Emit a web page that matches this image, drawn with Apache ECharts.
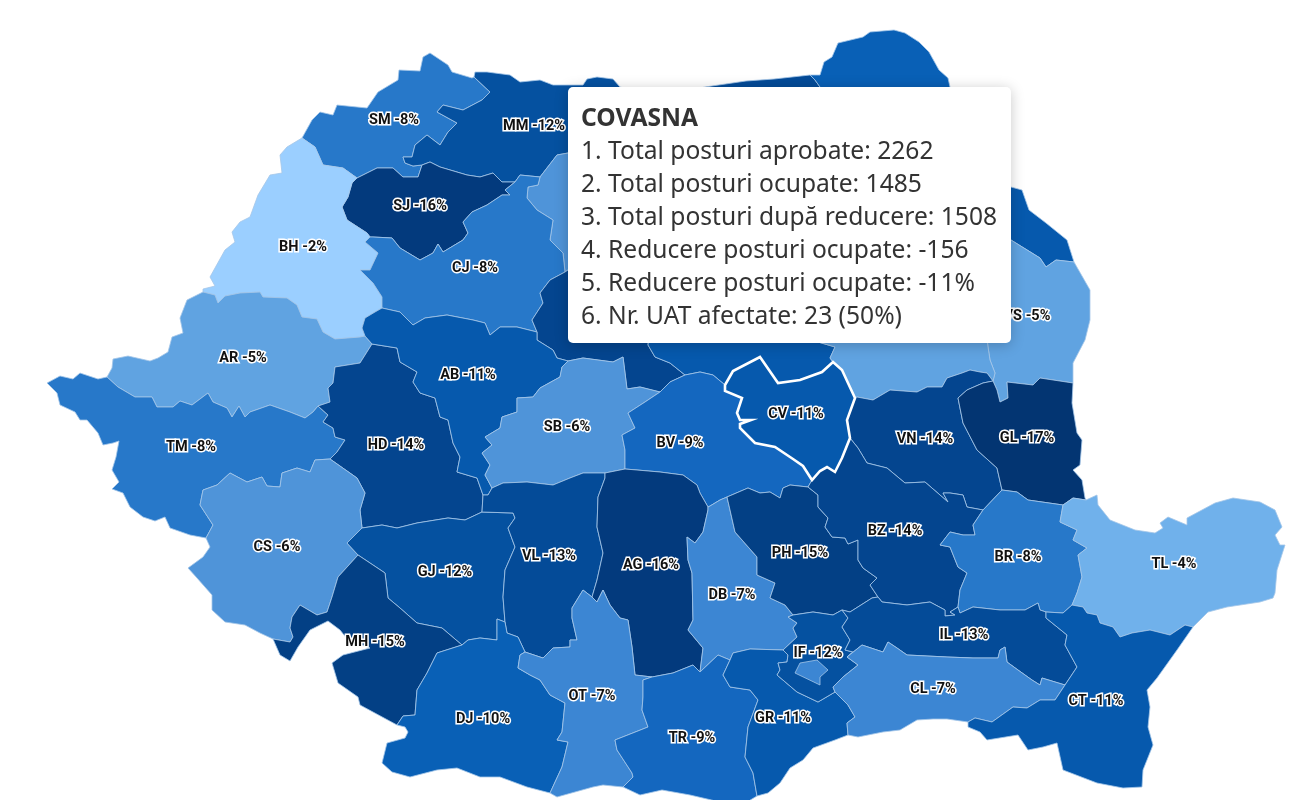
<!DOCTYPE html>
<html>
<head>
<meta charset="utf-8">
<title>Reducere posturi</title>
<script src="https://cdn.jsdelivr.net/npm/echarts@6/dist/echarts.min.js"></script>
<style>
html, body { margin: 0; padding: 0; background: #fff; }
#chart { width: 1307px; height: 800px; }
</style>
</head>
<body>
<div id="chart"></div>
<script>
// values (counties under the tooltip are estimates)
var countyCodes = ['SM','MM','SV','BT','IS','VS','NT','BN','SJ','BH','CJ','MS','HR','BC','AR','TM','HD','AB','SB','BV','VN','GL','CS','GJ','VL','AG','DB','PH','BZ','BR','TL','MH','DJ','OT','TR','GR','IF','B','IL','CL','CT','CV'];
var reducerePct = [-8,-12,-13,-10,-11,-5,-9,-6,-16,-2,-8,-14,-11,-5,-5,-8,-14,-11,-6,-9,-14,-17,-6,-12,-13,-16,-7,-15,-14,-8,-4,-15,-10,-7,-9,-11,-12,-7,-13,-7,-11,-11];

var tooltipCode = 'CV';
var tooltipTitle = 'COVASNA';
var tooltipLabels = ['1. Total posturi aprobate', '2. Total posturi ocupate', '3. Total posturi după reducere', '4. Reducere posturi ocupate', '5. Reducere posturi ocupate', '6. Nr. UAT afectate'];
var tooltipValues = ['2262', '1485', '1508', '-156', '-11%', '23 (50%)'];

var scaleColors = ['#033572','#033a7d','#034085','#04458f','#044b98','#0551a0','#0659ad','#0960b6','#1467bf','#2778c9','#3c86d3','#4f94d9','#60a3e1','#70b1eb','#85c0f5','#9bcfff'];

/* map outline: shared borders, in page pixels */
var arcs = {
	o_AR: [203,292,187,300,180,318,183,333,172,337,168,352,158,358,150,361,128,356,113,359,112,368,107,377],
	o_TM: [107,377,98,379,80,373,73,379,60,376,47,383,57,393,60,405,75,412,80,420,87,420,98,433,103,445,113,443,119,441,116,457,112,470,119,482,112,489,123,493,130,507,143,517,155,521,165,517,170,528,190,535,206,538],
	o_CS: [206,538,210,547,203,557,188,568,197,578,212,595,212,610,225,622,245,625,260,633,273,639],
	o_MH: [273,639,280,655,290,661,298,647,310,630,328,621,340,630,348,640,370,648,343,655,332,663,338,683,358,697,360,705,397,725],
	o_DJ: [397,725,405,727,408,732,405,738,387,743,382,763,392,772,410,777,437,770,457,768,480,777,500,777,527,787,550,793],
	o_OT: [550,793,557,797,593,787,603,785,623,787],
	o_TR: [623,787,640,795,662,790,690,795,720,802,747,802,757,796],
	o_GR: [757,796,768,793,780,783,790,768,803,760,813,748,835,740,848,735],
	o_CL: [848,735,858,737,883,732,900,730,917,720,933,719,947,719,968,722],
	o_CT: [968,722,968,727,980,732,987,740,1018,735,1028,750,1043,747,1057,743,1063,770,1097,783,1123,788,1142,787,1143,770,1153,745,1148,727,1150,707,1147,690,1157,678,1177,650,1193,627],
	o_TL: [1193,627,1208,612,1227,607,1260,602,1273,598,1275,593,1277,570,1285,545,1280,545,1275,535,1282,527,1275,510,1260,502,1233,498,1215,503,1187,518,1187,525,1168,517,1160,523,1163,528,1155,533,1135,530,1110,520,1098,505,1097,495,1086,500],
	o_GL: [1086,500,1085,498,1082,480,1073,470,1080,465,1082,440,1077,433,1072,403,1073,383],
	o_VS: [1073,383,1073,363,1085,340,1090,320,1090,290,1074,262],
	o_IS: [1074,262,1067,240,1046,223,1029,210,1022,190,1011,187,985,165],
	o_BT: [985,165,965,140,950,87,948,78,939,70,929,52,919,42,905,33,894,30,870,32,863,37,838,43,832,57,824,62,820,75,810,75],
	o_SV: [810,75,774,79,746,81,705,87,680,92],
	o_MM: [680,92,650,95,620,87,613,79,597,77,587,79,583,85,553,85,540,80,520,82,510,75,487,72,475,72,474,77],
	o_SM: [474,77,472,78,452,72,448,65,430,53,423,57,420,71,399,70,398,80,378,92,367,108,337,105,333,115,320,112,312,120,302,138],
	o_BH: [302,138,287,147,280,155,282,173,270,175,258,195,250,217,240,222,232,232,235,242,225,250,210,277,215,286,203,289,203,292],
	AR_TM: [107,377,118,387,135,397,152,397,157,407,173,407,180,401,192,405,208,393,213,402,227,408,232,417,239,406,245,417,250,412,270,405,290,412,305,418,313,412,318,406],
	AR_HD: [318,406,330,402,328,388,333,383,335,367,360,363,372,344],
	AR_AB: [372,344,365,336],
	AR_BH: [203,292,215,295,218,303,225,296,240,293,260,292,263,297,287,298,297,305,302,317,317,319,323,332,335,339,360,337,365,336],
	BH_AB: [365,336,362,328,365,318,375,312,382,308],
	BH_CJ: [382,308,382,297,373,283,360,270,370,270,378,253,365,242,370,237],
	BH_SJ: [370,237,367,233,347,220,342,207,348,197,352,183,357,178],
	BH_SM: [357,178,343,168,323,165,315,147,302,138],
	SM_SJ: [357,178,377,168,393,168,403,177,418,177,422,165],
	SM_MM: [422,165,413,166,405,163,403,157,412,157,415,145,427,135,440,145,448,132,457,123,437,112,443,105,463,110,482,100,490,92,474,77],
	SJ_MM: [422,165,430,162,440,167,467,175,480,177,493,173,502,182,515,182],
	SJ_CJ: [515,182,505,190,510,195,502,195,487,205,472,212,463,222,468,233,463,240,443,252,438,244,433,253,420,260,400,248,392,238,373,237,370,237],
	CJ_MM: [515,182,520,175,540,177],
	CJ_BN: [540,177,538,185,528,187,527,198,537,210,553,220,550,240,563,253,565,272],
	CJ_MS: [565,272,550,280,540,293,543,303,532,320,537,332],
	CJ_AB: [537,332,517,327,500,327,490,335,485,323,473,320,447,315,425,318,413,325,400,312,382,308],
	AB_MS: [537,332,537,340,553,350,557,358,568,361],
	AB_SB: [568,361,562,367,560,377,540,388,533,397,517,398,517,412,502,417,500,428,485,437,492,445,482,453,490,465,485,475,492,488],
	AB_VL: [492,488,488,495,483,495],
	AB_HD: [483,495,477,478,457,472,460,457,453,443,448,420,440,417,435,398,420,393,413,382,417,372,400,362,397,348,372,344],
	HD_TM: [318,406,328,415,323,422,333,428,335,437,345,440,337,452,330,459],
	HD_CS: [330,459,357,478,365,493,360,510,362,528],
	HD_GJ: [362,528,382,525,397,528,417,523,448,518,465,520,482,512],
	HD_VL: [482,512,483,495],
	TM_CS: [206,538,213,525,200,505,203,490,217,485,230,473,247,482,262,477,267,486,280,487,282,473,297,468,310,472,315,460,330,459],
	CS_GJ: [362,528,347,543,358,555],
	CS_MH: [358,555,338,577,332,597,327,612,317,615,300,605,292,617,290,628,293,637,290,642,273,639],
	GJ_MH: [358,555,385,573,388,598,400,608,417,623,442,628,462,645],
	GJ_DJ: [462,645,468,640,480,638,497,640,497,619,505,622],
	GJ_VL: [482,512,513,513,515,518,508,528,515,547,505,570,503,597,505,622],
	MH_DJ: [462,645,437,653,427,673,417,690,415,715,403,716,397,725],
	DJ_VL: [505,622,507,633,518,637,525,652],
	DJ_OT: [525,652,520,655,518,668,530,675,540,680,550,695,565,703,562,732,557,740,568,742,562,767,550,793],
	VL_SB: [492,488,503,483,527,482,553,485,570,478,583,473,605,473],
	VL_AG: [605,473,605,478,598,497,597,527,603,553,597,580,592,597],
	VL_OT: [592,597,583,590,572,608,572,618,577,640,570,640,570,647,553,648,543,658,525,652],
	AG_SB: [605,473,625,469],
	AG_BV: [625,469,637,470,660,472,683,475,697,485,700,493,708,507],
	AG_DB: [708,507,708,510,703,532,695,543,687,537,688,560,692,573,693,620,688,630,703,648,700,672],
	AG_OT: [592,597,597,602,603,590,610,605,620,618,628,620,632,647,635,675,652,677],
	AG_TR: [652,677,673,673,693,665,700,672],
	OT_TR: [652,677,643,680,643,697,642,710,648,727,615,740,617,750,632,773,633,777,623,787],
	SB_MS: [568,361,583,358,613,362,623,357,625,373,627,389,640,387,660,392],
	SB_BV: [660,392,645,402,628,413,635,428,622,435,625,450,625,469],
	MS_BV: [660,392,670,382,685,375],
	HR_BV: [685,375,700,372,713,375,725,385],
	HR_MS: [685,375,670,363,655,357,648,345,655,290,670,230],
	BV_CV: [725,385,725,391,742,398,737,413,740,420,751,420,740,424,740,428,755,443,775,447,793,459,803,466,812,480],
	BV_BZ: [812,480,808,487],
	BV_PH: [808,487,790,485,783,488,780,498,770,492,760,493,748,488,727,497],
	BV_DB: [727,497,720,500,710,506,708,507],
	DB_PH: [727,497,730,510,735,532,757,557,757,575,775,583,770,598,785,605,793,615],
	DB_IF: [793,615,788,617,797,623,793,628,797,637,783,650],
	DB_GR: [783,650,750,649,733,653,730,660],
	DB_TR: [730,660,718,655,700,672],
	TR_GR: [730,660,723,675,730,687,750,690,758,700,748,727,745,757,753,773,757,796],
	PH_BZ: [808,487,818,495,818,507,828,518,825,527,832,537,845,538,848,544,858,540,858,560,863,568,877,578,870,585,878,597],
	PH_IL: [878,597,872,598,850,612,842,610],
	PH_IF: [842,610,833,615,813,612,793,615],
	IF_IL: [842,610,848,618,842,627,850,640,845,650,853,652,847,657],
	IF_CL: [847,657,858,665,843,677,833,687,835,692],
	IF_GR: [783,650,788,655,787,662,778,663,780,670,777,675,797,692,818,702,835,692],
	GR_CL: [835,692,848,705,855,717,847,723,848,735],
	CL_IL: [847,657,862,645,883,652,888,642,897,648,907,655,947,657,973,658,998,658,1000,650,1005,647,1007,662,1018,670,1032,680,1040,685,1042,678,1065,685],
	CL_CT: [1065,685,1055,700,1040,700,1027,708,1013,707,992,722,975,718,968,722],
	IL_CT: [1046,612,1046,618,1067,635,1065,645,1077,667,1065,685],
	IL_BR: [958,607,960,613,973,607,1000,610,1025,610,1038,603,1040,610,1046,612],
	IL_BZ: [878,597,882,602,907,605,930,602,945,610,945,616,955,615,950,612,958,607],
	BZ_BR: [958,607,960,590,967,573,958,567,950,547,940,545,950,532,963,535,975,535,973,525,983,510],
	BZ_VN: [983,510,967,507,963,495,950,493,943,493,948,502,940,495,925,482,905,483,887,468,867,463,858,448,850,438],
	BZ_CV: [850,438,842,458,835,472,827,467,820,471,812,480],
	VN_CV: [855,398,847,420,850,438],
	VN_BC: [993,381,987,373,980,372,970,370,962,373,947,378,942,387,927,387,917,392,890,390,873,400,857,397,855,398],
	VN_GL: [993,381,983,383,967,390,958,398,963,423,977,450,997,468,1002,490],
	VN_BR: [983,510,1002,490],
	GL_BR: [1002,490,1017,492,1028,500,1063,505],
	GL_TL: [1063,505,1073,498,1086,500],
	GL_VS: [993,381,997,390,1000,402,1008,398,1007,382,1033,385,1040,378,1073,383],
	BR_TL: [1063,505,1060,522,1077,530,1073,540,1087,548,1078,555,1082,577,1077,593,1072,605],
	BR_CT: [1046,612,1063,613,1072,605],
	TL_CT: [1072,605,1083,607,1087,613,1097,615,1100,623,1113,627,1120,637,1132,633,1150,630,1170,635,1185,625,1193,627],
	CV_BC: [833,362,842,370,848,383,855,398],
	CV_HR: [725,385,733,371,760,357,778,383,800,380,822,372,833,362],
	BC_HR: [833,362,830,358,835,347,818,342,780,300],
	BC_NT: [780,300,900,300,940,250],
	BC_VS: [940,250,985,320,988,347,990,360,995,373,993,381],
	VS_IS: [940,250,1011,240,1040,258,1046,267,1056,260,1074,262],
	IS_NT: [940,250,880,180],
	IS_BT: [880,180,985,165],
	NT_BT: [830,180,880,180],
	NT_SV: [830,180,760,240],
	NT_HR: [760,240,780,300],
	SV_BT: [810,75,815,80,820,87,830,180],
	SV_HR: [760,240,670,230],
	SV_BN: [670,230,680,140],
	SV_MM: [680,140,680,92],
	MM_BN: [540,177,557,155,568,153,600,150,680,140],
	BN_MS: [565,272,590,255,620,240,670,230],
	B_IN: [800,663,817,660,828,670,820,677,820,685,795,673,800,663]
};

var countyArcs = {
	AR: ['o_AR','AR_TM','AR_HD','AR_AB','AR_BH'],
	TM: ['o_TM','TM_CS','HD_TM','AR_TM'],
	CS: ['o_CS','CS_MH','CS_GJ','HD_CS','TM_CS'],
	MH: ['o_MH','MH_DJ','GJ_MH','CS_MH'],
	DJ: ['o_DJ','DJ_OT','DJ_VL','GJ_DJ','MH_DJ'],
	OT: ['o_OT','OT_TR','AG_OT','VL_OT','DJ_OT'],
	TR: ['o_TR','TR_GR','DB_TR','AG_TR','OT_TR'],
	GR: ['o_GR','GR_CL','IF_GR','DB_GR','TR_GR'],
	CL: ['o_CL','CL_CT','CL_IL','IF_CL','GR_CL'],
	CT: ['o_CT','TL_CT','BR_CT','IL_CT','CL_CT'],
	TL: ['o_TL','GL_TL','BR_TL','TL_CT'],
	GL: ['o_GL','GL_VS','VN_GL','GL_BR','GL_TL'],
	VS: ['o_VS','VS_IS','BC_VS','GL_VS'],
	IS: ['o_IS','IS_BT','IS_NT','VS_IS'],
	BT: ['o_BT','SV_BT','NT_BT','IS_BT'],
	SV: ['o_SV','SV_MM','SV_BN','SV_HR','NT_SV','SV_BT'],
	MM: ['o_MM','SM_MM','SJ_MM','CJ_MM','MM_BN','SV_MM'],
	SM: ['o_SM','BH_SM','SM_SJ','SM_MM'],
	BH: ['o_BH','AR_BH','BH_AB','BH_CJ','BH_SJ','BH_SM'],
	SJ: ['SM_SJ','SJ_MM','SJ_CJ','BH_SJ'],
	CJ: ['SJ_CJ','CJ_MM','CJ_BN','CJ_MS','CJ_AB','BH_CJ'],
	BN: ['CJ_BN','BN_MS','SV_BN','MM_BN'],
	MS: ['BN_MS','HR_MS','MS_BV','SB_MS','AB_MS','CJ_MS'],
	AB: ['CJ_AB','BH_AB','AR_AB','AB_HD','AB_VL','AB_SB','AB_MS'],
	HD: ['AB_HD','HD_VL','HD_GJ','HD_CS','HD_TM','AR_HD'],
	GJ: ['HD_GJ','GJ_VL','GJ_DJ','GJ_MH','CS_GJ'],
	VL: ['HD_VL','AB_VL','VL_SB','VL_AG','VL_OT','DJ_VL','GJ_VL'],
	SB: ['AB_SB','SB_MS','SB_BV','AG_SB','VL_SB'],
	AG: ['AG_SB','AG_BV','AG_DB','AG_TR','AG_OT','VL_AG'],
	BV: ['MS_BV','HR_BV','BV_CV','BV_BZ','BV_PH','BV_DB','AG_BV','SB_BV'],
	HR: ['HR_MS','SV_HR','NT_HR','BC_HR','CV_HR','HR_BV'],
	NT: ['NT_BT','IS_NT','BC_NT','NT_HR','NT_SV'],
	BC: ['BC_NT','BC_VS','VN_BC','CV_BC','BC_HR'],
	VN: ['VN_BC','VN_CV','BZ_VN','VN_BR','VN_GL'],
	BZ: ['BZ_VN','BZ_CV','BV_BZ','PH_BZ','IL_BZ','BZ_BR'],
	PH: ['BV_PH','DB_PH','PH_IF','PH_IL','PH_BZ'],
	DB: ['BV_DB','AG_DB','DB_TR','DB_GR','DB_IF','DB_PH'],
	IF: ['PH_IF','IF_IL','IF_CL','IF_GR','DB_IF'],
	B: ['B_IN'],
	IL: ['IL_BZ','IL_BR','IL_CT','CL_IL','IF_IL','PH_IL'],
	BR: ['IL_BR','BR_CT','BR_TL','GL_BR','VN_BR','BZ_BR'],
	CV: ['CV_HR','CV_BC','VN_CV','BZ_CV','BV_CV']
};

var labelPoints = {
	SM:[394,120],MM:[534,126],SV:[740,130],BT:[880,120],IS:[960,200],VS:[1027,316],NT:[850,240],BN:[610,200],SJ:[420,206],BH:[303,247],CJ:[475,268],MS:[600,300],HR:[730,300],BC:[900,300],
	AR:[243,358],TM:[191,447],HD:[396,445],AB:[468,375],SB:[567,427],BV:[680,443],VN:[925,439],GL:[1027,438],CS:[277,547],GJ:[445,572],VL:[549,556],AG:[651,565],DB:[732,595],PH:[800,553],
	BZ:[895,531],BR:[1018,557],TL:[1174,564],MH:[375,642],DJ:[483,719],OT:[592,696],TR:[692,738],GR:[783,718],IF:[818,653],B:[812,672],IL:[964,635],CL:[933,689],CT:[1096,701],CV:[796,414]
};

function toPairs(flat) {
	var out = [];
	for (var i = 0; i < flat.length; i += 2) {
		out.push([flat[i], flat[i + 1]]);
	}
	return out;
}

function samePoint(a, b) {
	return a[0] === b[0] && a[1] === b[1];
}

// walk the arcs of one county, turning each one round when needed
function buildRing(names) {
	var ring = [];
	names.forEach(function(name, i) {
		var pts = toPairs(arcs[name]);
		if (i === 0 && names.length > 1) {
			var next = toPairs(arcs[names[1]]);
			var end = pts[pts.length - 1];
			if (!samePoint(end, next[0]) && !samePoint(end, next[next.length - 1])) {
				pts.reverse();
			}
		} else if (i > 0 && !samePoint(pts[0], ring[ring.length - 1])) {
			pts.reverse();
		}
		ring = ring.concat(pts);
	});
	if (!samePoint(ring[0], ring[ring.length - 1])) {
		ring.push(ring[0]);
	}
	return ring.map(function(p) {
		return [p[0], -p[1]];
	});
}

var features = countyCodes.map(function(code) {
	return {
		type : 'Feature',
		properties : {
			name : code,
			cp : [labelPoints[code][0], -labelPoints[code][1]]
		},
		geometry : {
			type : 'Polygon',
			coordinates : [buildRing(countyArcs[code])]
		}
	};
});

echarts.registerMap('romania', { type : 'FeatureCollection', features : features });

var seriesData = countyCodes.map(function(code, i) {
	var item = { name : code, value : reducerePct[i] };
	if (code === 'B') {
		item.label = { show : false };
	}
	if (code === tooltipCode) {
		item.itemStyle = { borderColor : '#ffffff', borderWidth : 2.6 };
	}
	return item;
});

var chart = echarts.init(document.getElementById('chart'));

chart.setOption({
	animation : false,
	backgroundColor : '#ffffff',
	visualMap : {
		show : false,
		type : 'continuous',
		min : -17,
		max : -2,
		inRange : { color : scaleColors }
	},
	tooltip : {
		trigger : 'item',
		triggerOn : 'none',
		alwaysShowContent : true,
		position : [568, 87],
		padding : [13, 13, 11, 13],
		backgroundColor : '#ffffff',
		borderWidth : 0,
		transitionDuration : 0,
		extraCssText : 'width:443px;height:256px;box-sizing:border-box;border-radius:5px;box-shadow:0 2px 14px rgba(0,0,0,0.22);',
		textStyle : { color : '#333333', fontFamily : 'Noto Sans', fontSize : 24.6 },
		formatter : function() {
			var html = '<div style="font-weight:bold;line-height:33px;">' + tooltipTitle + '</div>';
			tooltipLabels.forEach(function(label, i) {
				html += '<div style="line-height:33px;">' + label + ': ' + tooltipValues[i] + '</div>';
			});
			return html;
		}
	},
	series : [ {
		type : 'map',
		map : 'romania',
		left : 0,
		top : 0,
		width : 1307,
		height : 800,
		aspectScale : 1,
		boundingCoords : [ [0, 0], [1307, -800] ],
		roam : false,
		selectedMode : false,
		emphasis : { disabled : true },
		itemStyle : { borderColor : '#a4c6e8', borderWidth : 0.8 },
		label : {
			show : true,
			color : '#111111',
			fontFamily : 'Roboto',
			fontWeight : 'bold',
			fontSize : 14.5,
			textBorderColor : '#ffffff',
			textBorderWidth : 3,
			formatter : function(params) {
				return params.name + ' ' + params.value + '%';
			}
		},
		data : seriesData
	} ]
});

chart.dispatchAction({
	type : 'showTip',
	seriesIndex : 0,
	dataIndex : countyCodes.indexOf(tooltipCode)
});
</script>
</body>
</html>
